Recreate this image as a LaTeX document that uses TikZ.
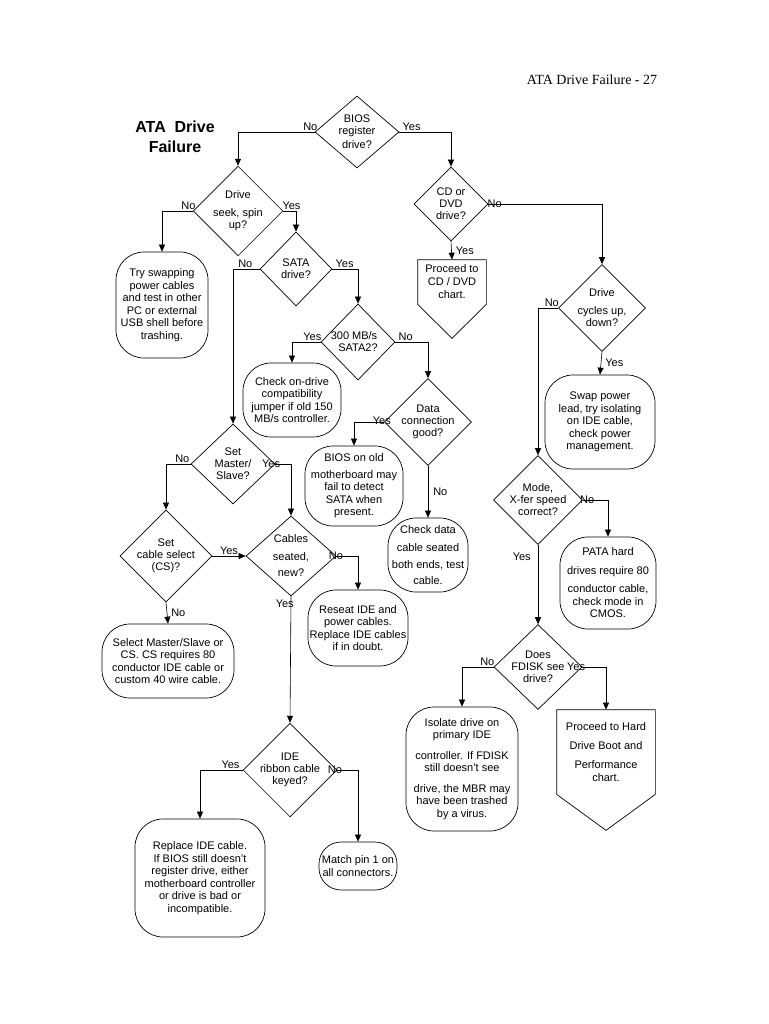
\documentclass[tikz,border=0pt]{standalone}
\usepackage{fontspec}
\setmainfont{Liberation Sans}
\newfontfamily\serifhead{Liberation Serif}
\usetikzlibrary{shapes.geometric, arrows.meta, positioning}

\begin{document}
\begin{tikzpicture}
  [x=1pt, y=-1pt,
  dec/.style={diamond, draw, inner sep=0pt, align=center, font=\fontsize{11}{12}\selectfont},
  endbox/.style={rectangle, draw, rounded corners=28pt, align=center, inner sep=1pt, font=\fontsize{11}{12.5}\selectfont},
  tag/.style={font=\fontsize{11}{12}\selectfont, inner sep=1pt},
  arr/.style={-{Triangle[length=7pt,width=6pt]}, semithick},
  line width=0.7pt]

  \useasboundingbox (0,0) rectangle (768,1024);

  \node[font=\serifhead\fontsize{14}{15}\selectfont] (hdr) at (592,80) {ATA Drive Failure - 27};
  \node[font=\bfseries\fontsize{16}{20}\selectfont, align=center] (ttl) at (175,137) {ATA\ \ Drive\\Failure};

  % decisions
  \node[dec, minimum width=84pt, minimum height=72pt] (bios) at (357,132) {BIOS\\register\\[2pt]drive?};
  \node[dec, minimum width=84pt, minimum height=76pt] (spin) at (238,211) {Drive\\[6pt]seek, spin\\up?};
  \node[dec, minimum width=72pt, minimum height=74pt] (sata) at (296,269) {SATA\\drive?};
  \node[dec, minimum width=74pt, minimum height=76pt] (sata2) at (358,342) {\hspace*{-8pt}300 MB/s\\SATA2?};
  \node[dec, minimum width=74pt, minimum height=72pt] (dconn) at (428,422) {Data\\connection\\good?};
  \node[dec, minimum width=74pt, minimum height=74pt] (cddvd) at (451,204) {CD or\\DVD\\drive?};
  \node[dec, minimum width=76pt, minimum height=84pt] (cycle) at (602,308) {Drive\\[6pt]cycles up,\\down?};
  \node[dec, minimum width=88pt, minimum height=80pt] (mode) at (538,500) {Mode,\\X-fer speed\\correct?};
  \node[dec, minimum width=88pt, minimum height=70pt] (fdisk) at (538,667) {Does\\FDISK see\\drive?};
  \node[dec, minimum width=84pt, minimum height=80pt] (msl) at (233,464) {Set\\Master/\\Slave?};
  \node[dec, minimum width=84pt, minimum height=80pt] (csel) at (166,556) {Set\\cable select\\(CS)?};
  \node[dec, minimum width=90pt, minimum height=80pt] (seat) at (291,556) {Cables\\[6pt]seated,\\[4pt]new?};
  \node[dec, minimum width=84pt, minimum height=80pt] (ribbon) at (290,770) {IDE\\ribbon cable\\keyed?};

  % end boxes
  \node[endbox, minimum width=92pt, minimum height=106pt] (swap) at (162,305) {Try swapping\\power cables\\and test in other\\PC or external\\USB shell before\\trashing.};
  \node[endbox, minimum width=98pt, minimum height=74pt] (jump) at (292,400) {Check on-drive\\compatibility\\jumper if old 150\\MB/s controller.};
  \node[endbox, minimum width=98pt, minimum height=80pt] (oldbios) at (354,486) {BIOS on old\\[4pt]motherboard may\\fail to detect\\SATA when\\present.};
  \node[endbox, minimum width=80pt, minimum height=74pt] (chkdata) at (428,555) {Check data\\[6pt]cable seated\\[4pt]both ends, test\\[4pt]cable.};
  \node[endbox, minimum width=110pt, minimum height=94pt] (plead) at (600,422) {Swap power\\lead, try isolating\\on IDE cable,\\check power\\management.};
  \node[endbox, minimum width=96pt, minimum height=92pt] (pata) at (608,583) {PATA hard\\[6pt]drives require 80\\[6pt]conductor cable,\\check mode in\\CMOS.};
  \node[endbox, minimum width=112pt, minimum height=124pt] (isol) at (462,769) {Isolate drive on\\primary IDE\\[8pt]controller. If FDISK\\still doesn't see\\[8pt]drive, the MBR may\\have been trashed\\by a virus.};
  \node[endbox, minimum width=100pt, minimum height=76pt] (reseat) at (358,628) {Reseat IDE and\\power cables.\\Replace IDE cables\\if in doubt.};
  \node[endbox, minimum width=132pt, minimum height=74pt] (selms) at (168,661) {Select Master/Slave or\\CS. CS requires 80\\conductor IDE cable or\\custom 40 wire cable.};
  \node[endbox, minimum width=130pt, minimum height=118pt] (repl) at (200,878) {Replace IDE cable.\\If BIOS still doesn't\\register drive, either\\motherboard controller\\or drive is bad or\\incompatible.};
  \node[endbox, rounded corners=22pt, minimum width=78pt, minimum height=48pt] (pin) at (358,866) {Match pin 1 on\\all connectors.};

  % off-page connectors
  \node[align=center, font=\fontsize{11}{13}\selectfont, minimum width=68pt, minimum height=44pt] (cdpage) at (452,282) {Proceed to\\CD / DVD\\chart.};
  \draw (cdpage.north west) -- (cdpage.north east) -- (cdpage.south east) -- ([yshift=-34pt]cdpage.south) -- (cdpage.south west) -- cycle;
  \node[align=center, font=\fontsize{11}{13}\selectfont, minimum width=98pt, minimum height=84pt] (hdpage) at (606,752) {Proceed to Hard\\[6pt]Drive Boot and\\[6pt]Performance\\chart.};
  \draw (hdpage.north west) -- (hdpage.north east) -- (hdpage.south east) -- ([yshift=-36pt]hdpage.south) -- (hdpage.south west) -- cycle;

  % connectors
  \draw[arr] (bios.west) node[tag, above left=0pt and -4pt]{No} -| (spin.north);
  \draw[arr] (bios.east) node[tag, above right=0pt and 2pt]{Yes} -| (cddvd.north);
  \draw[arr] (spin.west) node[tag, above left=0pt and -4pt]{No} -| (swap.north);
  \draw[arr] (spin.east) node[tag, above right=0pt and -2pt]{Yes} -| (sata.north);
  \draw[arr] (sata.west) node[tag, above left=0pt and 6pt]{No} -| (msl.north);
  \draw[arr] (sata.east) node[tag, above right=0pt and 2pt]{Yes} -| (sata2.north);
  \draw[arr] (sata2.west) node[tag, above left=0pt and -2pt]{Yes} -| (jump.north);
  \draw[arr] (sata2.east) node[tag, above right=0pt and 2pt]{No} -| (dconn.north);
  \draw[arr] (dconn.west) node[tag, above left=-4pt and -8pt]{Yes} -| (oldbios.north);
  \draw[arr] (dconn.south) -- node[tag, right=4pt]{No} (chkdata.north);
  \draw[arr] (cddvd.east) node[tag, right=-2pt]{No} -| (cycle.north);
  \draw[arr] (cddvd.south) -- node[tag, right=3pt]{Yes} (cdpage.north);
  \draw[arr] (cycle.west) node[tag, above left=0pt and -2pt]{No} -| (mode.north);
  \draw[arr] (cycle.south) -- node[tag, right=3pt]{Yes} (plead.north);
  \draw[arr] (mode.east) node[tag, right=-4pt]{No} -| (pata.north);
  \draw[arr] (mode.south) -- node[tag, left=6pt, pos=0.15]{Yes} (fdisk.north);
  \draw[arr] (fdisk.west) node[tag, above left=0pt and -2pt]{No} -| (isol.north);
  \draw[arr] (fdisk.east) node[tag, left=-4pt]{Yes} -| (hdpage.north);
  \draw[arr] (msl.west) node[tag, above left=0pt and 0pt]{No} -| (csel.north);
  \draw[arr] (msl.east) node[tag, left=-6pt]{Yes} -| (seat.north);
  \draw[arr] (csel.east) -- node[tag, above]{Yes} (seat.west);
  \draw[arr] (csel.south) -- node[tag, right=3pt]{No} (selms.north);
  \draw[arr] (seat.east) node[tag, left=-8pt]{No} -| (reseat.north);
  \draw[arr] (seat.south) node[tag, below left=2pt and -4pt]{Yes} -- (ribbon.north);
  \draw[arr] (ribbon.west) node[tag, above left=0pt and 2pt]{Yes} -| (repl.north);
  \draw[arr] (ribbon.east) node[tag, left=-6pt]{No} -| (pin.north);

\end{tikzpicture}
\end{document}
